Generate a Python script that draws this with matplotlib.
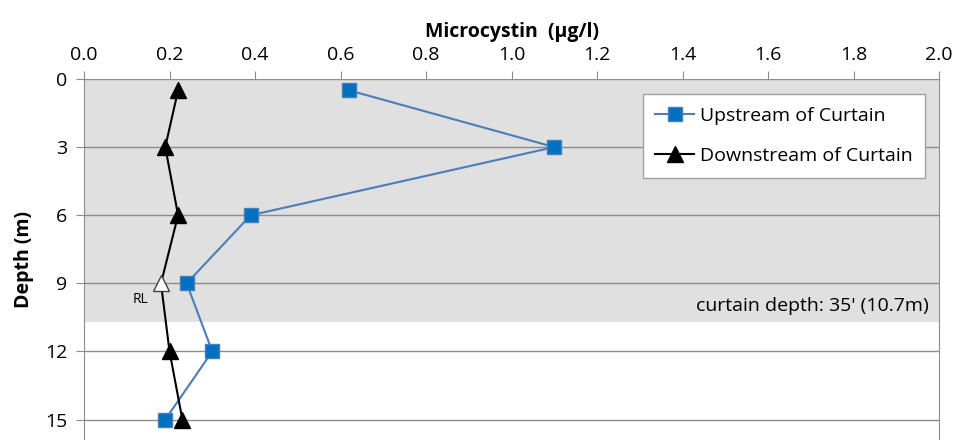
import matplotlib.pyplot as plt
import numpy as np

plt.rcParams['font.family'] = ['Open Sans', 'DejaVu Sans']

depth = [0.5, 3, 6, 9, 12, 15]
upstream = [0.62, 1.10, 0.39, 0.24, 0.30, 0.19]
downstream = [0.22, 0.19, 0.22, 0.18, 0.20, 0.23]
rl_index = 3  # reporting limit point, drawn hollow
curtain_depth = 10.7

fig = plt.figure(figsize=(9.56, 4.40), dpi=100)
ax = fig.add_axes([0.0879, 0.0, 0.8944, 0.8205])

ax.axhspan(0, curtain_depth, color='#e0e0e0', zorder=0, lw=0)
for d in [0, 3, 6, 9, 12, 15]:
    ax.axhline(d, color='#8c8c8c', lw=1.0, zorder=1)

ax.plot(upstream, depth, color='#4a7ebb', lw=1.5, marker='s', ms=10,
        mfc='#0070c0', mec='#4a7ebb', mew=1.0, label='Upstream of Curtain', zorder=3)

keep = [i for i in range(len(depth)) if i != rl_index]
ax.plot(downstream, depth, color='black', lw=1.5, marker='^', ms=11,
        mfc='black', mec='black', markevery=keep, label='Downstream of Curtain', zorder=4)
ax.plot(downstream[rl_index], depth[rl_index], marker='^', ms=11, mfc='white',
        mec='#404040', mew=1.0, ls='none', zorder=5)
ax.text(downstream[rl_index] - 0.03, depth[rl_index] + 0.7, 'RL', fontsize=10,
        ha='right', va='center')

ax.text(1.975, 10.0, "curtain depth: 35' (10.7m)", fontsize=14, ha='right', va='center')

ax.set_xlim(0, 2.0)
ax.set_ylim(15.9, 0)
ax.xaxis.tick_top()
ax.xaxis.set_label_position('top')
ax.set_xticks(np.arange(0, 2.01, 0.2))
ax.set_xticklabels(['%.1f' % v for v in np.arange(0, 2.01, 0.2)])
ax.set_yticks([0, 3, 6, 9, 12, 15])
ax.tick_params(axis='both', labelsize=14, color='#8c8c8c', length=6, direction='out')
ax.tick_params(axis='x', pad=5)
ax.tick_params(axis='y', pad=6)
ax.set_xlabel('Microcystin  (µg/l)', fontsize=14, fontweight='bold', labelpad=6)
ax.set_ylabel('Depth (m)', fontsize=14, fontweight='bold', labelpad=8)

ax.spines['bottom'].set_visible(False)
ax.spines['top'].set_visible(False)
ax.spines['left'].set_color('#8c8c8c')
ax.spines['right'].set_color('#8c8c8c')

leg = ax.legend(loc='upper right', bbox_to_anchor=(0.984, 0.958), borderaxespad=0,
                fontsize=14, frameon=True, fancybox=False, edgecolor='#a0a0a0',
                framealpha=1, handlelength=2.0, handletextpad=0.3,
                labelspacing=1.15, borderpad=0.65)
leg.get_frame().set_linewidth(1.0)

fig.savefig('out.png', dpi=100)
